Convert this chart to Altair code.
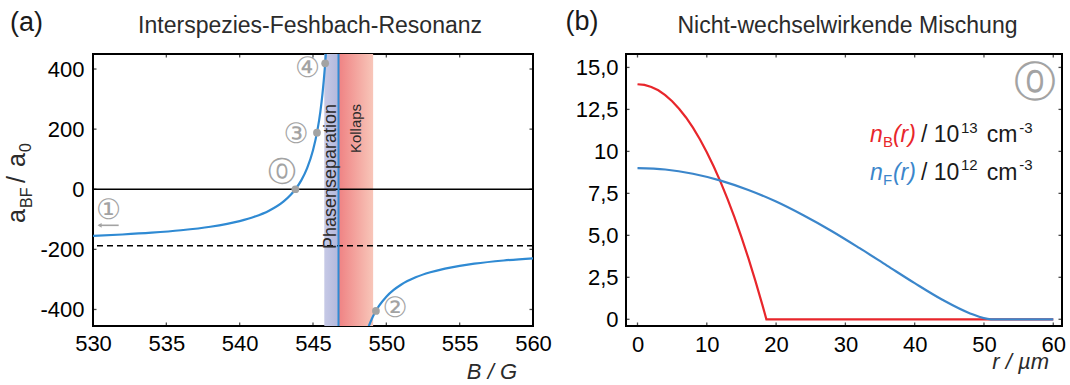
import altair as alt
import pandas as pd

FONT = "Liberation Sans"
CIRCLE_FONT = "DejaVu Sans"
CURVE_BLUE = "#2f8ad3"
BOSE_RED = "#e8262b"
FERMI_BLUE = "#3b86cb"
GREY = "#a3a3a3"
INK = "#2b2b2b"

# ---------------- (a) interspecies Feshbach resonance ----------------
# scattering length a_BF / a_0 versus magnetic field B / G, two branches
field_lower = [530, 532, 534, 536, 538, 540, 541, 542, 543, 543.5, 543.8, 544.2,
               544.6, 545.0, 545.3, 545.5, 545.65, 545.8, 545.87, 545.92]
abf_lower = [-155.0, -150.5, -144.6, -136.5, -124.8, -106.0, -91.7, -71.4, -40.2,
             -17.4, 0.0, 29.6, 70.3, 129.7, 195.8, 257.7, 319.1, 400.0, 447.3, 486.0]
field_upper = [548.75, 548.85, 549.0, 549.2, 549.5, 550, 550.5, 551, 552, 553,
               554, 555, 556, 558, 560]
abf_upper = [-463.0, -450.0, -432.6, -412.7, -388.3, -357.5, -335.0, -317.7, -293.1,
             -276.3, -264.1, -254.9, -247.7, -237.1, -229.7]

resonance_field = 546.74
background_abf = -188
phase_separation = [545.77, 546.74]
collapse = [546.74, 549.1]

state_field = [543.8, 545.27, 545.83, 549.29]
state_abf = [0, 188, 419, -405]

field_ticks = [530, 535, 540, 545, 550, 555, 560]
abf_ticks = [-400, -200, 0, 200, 400]

# ---------------- (b) non-interacting mixture ----------------
# density profiles n_B(r) / 1e13 cm^-3 and n_F(r) / 1e12 cm^-3 versus r / um
r_bose = [0, 1, 2, 3, 4, 5, 6, 7, 8, 9, 10, 11, 12, 13, 14, 15, 16, 17, 18, 18.6,
          25, 35, 45, 60]
n_bose = [14.00, 13.96, 13.84, 13.64, 13.35, 12.99, 12.54, 12.02, 11.41, 10.72, 9.95,
          9.10, 8.17, 7.16, 6.07, 4.89, 3.64, 2.30, 0.89, 0.0, 0.0, 0.0, 0.0, 0.0]
r_fermi = [0, 4, 8, 12, 16, 20, 24, 28, 32, 36, 40, 44, 48, 51, 55, 60]
n_fermi = [9.00, 8.92, 8.67, 8.26, 7.70, 7.01, 6.18, 5.26, 4.25, 3.20, 2.15, 1.16,
           0.35, 0.0, 0.0, 0.0]

r_ticks = [0, 10, 20, 30, 40, 50, 60]
n_ticks = [0, 2.5, 5, 7.5, 10, 12.5, 15]

# ---------------- scales and axes ----------------
XA_DOM = [530, 560]
YA_DOM = [-455, 450]
XB_DOM = [-1.66, 61.26]
YB_DOM = [-0.4, 15.8]

axis_common = dict(title=None, ticks=False, tickSize=0, domain=False, grid=False,
                   labelFlush=False, labelOverlap=False, labelFont=FONT,
                   labelFontSize=22, labelColor="black")

XA = alt.X("x:Q", scale=alt.Scale(domain=XA_DOM, nice=False, zero=False),
           axis=alt.Axis(values=field_ticks, format="d", labelPadding=7, **axis_common))
YA = alt.Y("y:Q", scale=alt.Scale(domain=YA_DOM, nice=False, zero=False),
           axis=alt.Axis(values=abf_ticks, labelPadding=9,
                         labelExpr="datum.value < 0 ? '-' + format(-datum.value, 'd') : format(datum.value, 'd')",
                         **axis_common))
XB = alt.X("x:Q", scale=alt.Scale(domain=XB_DOM, nice=False, zero=False),
           axis=alt.Axis(values=r_ticks, format="d", labelPadding=8, **axis_common))
YB = alt.Y("y:Q", scale=alt.Scale(domain=YB_DOM, nice=False, zero=False),
           axis=alt.Axis(values=n_ticks, labelPadding=8,
                         labelExpr="datum.value == 0 ? '0' : datum.value == 10 ? '10' : replace(format(datum.value, '.1f'), '.', ',')",
                         **axis_common))


def texts(rows, X, Y, **mark):
    df = pd.DataFrame(rows, columns=["x", "y", "t", "s", "c"])
    return alt.Chart(df).mark_text(**mark).encode(
        x=X, y=Y, text="t:N",
        size=alt.Size("s:Q", scale=None, legend=None),
        color=alt.Color("c:N", scale=None, legend=None),
    )


def inner_ticks(xvals, yvals, xdom, ydom, X, Y):
    vert = pd.DataFrame({"x": xvals * 2, "y": [ydom[0]] * len(xvals) + [ydom[1]] * len(xvals)})
    hori = pd.DataFrame({"x": [xdom[0]] * len(yvals) + [xdom[1]] * len(yvals), "y": yvals * 2})
    v = alt.Chart(vert).mark_tick(orient="vertical", size=7, thickness=1.3,
                                  color="black", clip=True).encode(x=X, y=Y)
    h = alt.Chart(hori).mark_tick(orient="horizontal", size=7, thickness=1.3,
                                  color="black", clip=True).encode(x=X, y=Y)
    return v + h


# ---------------- panel (a) ----------------
phase_rect = alt.Chart(pd.DataFrame({"x": [phase_separation[0]], "x2": [phase_separation[1]]})).mark_rect(
    fill=alt.LinearGradient(gradient="linear", x1=0, x2=1, y1=0, y2=0,
                            stops=[alt.GradientStop(color="#c6c9e6", offset=0),
                                   alt.GradientStop(color="#b3b8dc", offset=1)])
).encode(x=XA, x2="x2:Q")

collapse_rect = alt.Chart(pd.DataFrame({"x": [collapse[0]], "x2": [collapse[1]]})).mark_rect(
    fill=alt.LinearGradient(gradient="linear", x1=0, x2=1, y1=0, y2=0,
                            stops=[alt.GradientStop(color="#ef8283", offset=0),
                                   alt.GradientStop(color="#f8c6b9", offset=1)])
).encode(x=XA, x2="x2:Q")

zero_line = alt.Chart(pd.DataFrame({"y": [0]})).mark_rule(
    color="black", strokeWidth=1.6).encode(y=YA)
bg_line = alt.Chart(pd.DataFrame({"y": [background_abf]})).mark_rule(
    color="black", strokeWidth=1.3, strokeDash=[6, 4]).encode(y=YA)
pole_line = alt.Chart(pd.DataFrame({"x": [resonance_field]})).mark_rule(
    color=CURVE_BLUE, strokeWidth=2).encode(x=XA)

curve_df = pd.DataFrame({
    "x": field_lower + field_upper,
    "y": abf_lower + abf_upper,
    "branch": ["lower"] * len(field_lower) + ["upper"] * len(field_upper),
})
curve = alt.Chart(curve_df).mark_line(
    color=CURVE_BLUE, strokeWidth=2.2, interpolate="monotone", clip=True
).encode(x=XA, y=YA, detail="branch:N")

states = alt.Chart(pd.DataFrame({"x": state_field, "y": state_abf})).mark_circle(
    color=GREY, opacity=1, size=60).encode(x=XA, y=YA)

state_labels = texts([
    (542.92, 55, "⓪", 28, GREY),
    (543.84, 180, "③", 28, GREY),
    (544.62, 399, "④", 28, GREY),
    (550.59, -397, "②", 28, GREY),
    (531.06, -74, "①", 28, GREY),
], XA, YA, font=CIRCLE_FONT, align="center", baseline="middle")

arrow_shaft = alt.Chart(pd.DataFrame({"x": [530.4], "x2": [531.75], "y": [-120]})).mark_rule(
    color=GREY, strokeWidth=1.6).encode(x=XA, x2="x2:Q", y=YA)
arrow_head = alt.Chart(pd.DataFrame({"x": [530.45], "y": [-120]})).mark_point(
    shape="triangle-left", filled=True, color=GREY, opacity=1, size=22).encode(x=XA, y=YA)

band_labels = texts([
    (546.23, 284, "Phasenseparation", 18, INK),
    (547.93, 284, "Kollaps", 15, INK),
], XA, YA, font=FONT, angle=270, align="right", baseline="middle")

title_a = texts([(544.80, 520, "Interspezies-Feshbach-Resonanz", 23, INK)], XA, YA,
                font=FONT, align="center", baseline="alphabetic")
tag_a = texts([(524.34, 528, "(a)", 27, "#1a1a1a")], XA, YA,
              font=FONT, align="left", baseline="alphabetic")
xtitle_a = texts([(557.2, -631, "B / G", 22, INK)], XA, YA,
                 font=FONT, fontStyle="italic", align="center", baseline="alphabetic")
ytitle_a = texts([
    (525.36, -112, "a", 25, INK),
    (525.84, -62, "BF", 16, INK),
    (525.36, 21, "/", 25, INK),
    (525.36, 74, "a", 25, INK),
    (525.77, 124, "0", 16, INK),
], XA, YA, font=FONT, angle=270, align="left", baseline="alphabetic")

panel_a = alt.layer(
    phase_rect, collapse_rect, zero_line, bg_line, pole_line, curve, states,
    state_labels, arrow_shaft, arrow_head, band_labels,
    inner_ticks(field_ticks, abf_ticks, XA_DOM, YA_DOM, XA, YA),
    title_a, tag_a, xtitle_a, ytitle_a,
).properties(width=440, height=272)

# ---------------- panel (b) ----------------
bose = alt.Chart(pd.DataFrame({"x": r_bose, "y": n_bose})).mark_line(
    color=BOSE_RED, strokeWidth=2.2, clip=True).encode(x=XB, y=YB)
fermi = alt.Chart(pd.DataFrame({"x": r_fermi, "y": n_fermi})).mark_line(
    color=FERMI_BLUE, strokeWidth=2.2, interpolate="monotone", clip=True).encode(x=XB, y=YB)

legend_italic = texts([
    (33.54, 10.56, "n", 23, BOSE_RED),
    (36.86, 10.56, "(r)", 23, BOSE_RED),
    (33.54, 8.32, "n", 23, FERMI_BLUE),
    (36.86, 8.32, "(r)", 23, FERMI_BLUE),
], XB, YB, font=FONT, fontStyle="italic", align="left", baseline="alphabetic")
legend_plain = texts([
    (35.42, 10.26, "B", 15, BOSE_RED),
    (40.90, 10.56, "/ 10", 23, "#1a1a1a"),
    (46.67, 11.11, "13", 15, "#1a1a1a"),
    (50.4, 10.56, "cm", 23, "#1a1a1a"),
    (55.1, 11.11, "-3", 15, "#1a1a1a"),
    (35.42, 8.02, "F", 15, FERMI_BLUE),
    (40.90, 8.32, "/ 10", 23, "#1a1a1a"),
    (46.67, 8.87, "12", 15, "#1a1a1a"),
    (50.4, 8.32, "cm", 23, "#1a1a1a"),
    (55.1, 8.87, "-3", 15, "#1a1a1a"),
], XB, YB, font=FONT, align="left", baseline="alphabetic")

state_b = texts([(57.35, 14.07, "⓪", 42, GREY)], XB, YB,
                font=CIRCLE_FONT, align="center", baseline="middle")

title_b = texts([(30.3, 17.05, "Nicht-wechselwirkende Mischung", 23, INK)], XB, YB,
                font=FONT, align="center", baseline="alphabetic")
tag_b = texts([(-10.39, 17.2, "(b)", 27, "#1a1a1a")], XB, YB,
              font=FONT, align="left", baseline="alphabetic")
xtitle_b = texts([(55.3, -2.96, "r / µm", 22, INK)], XB, YB,
                 font=FONT, fontStyle="italic", align="center", baseline="alphabetic")

panel_b = alt.layer(
    bose, fermi, legend_italic, legend_plain, state_b,
    inner_ticks(r_ticks, n_ticks, XB_DOM, YB_DOM, XB, YB),
    title_b, tag_b, xtitle_b,
).properties(width=436, height=272)

chart = alt.hconcat(panel_a, panel_b, spacing=93, bounds="flush").properties(
    padding={"left": 3, "top": 7, "right": 0, "bottom": 0},
    background="white",
).configure_view(stroke="black", strokeWidth=2)

chart.save("out.html", embed_options={"renderer": "svg", "actions": False})
